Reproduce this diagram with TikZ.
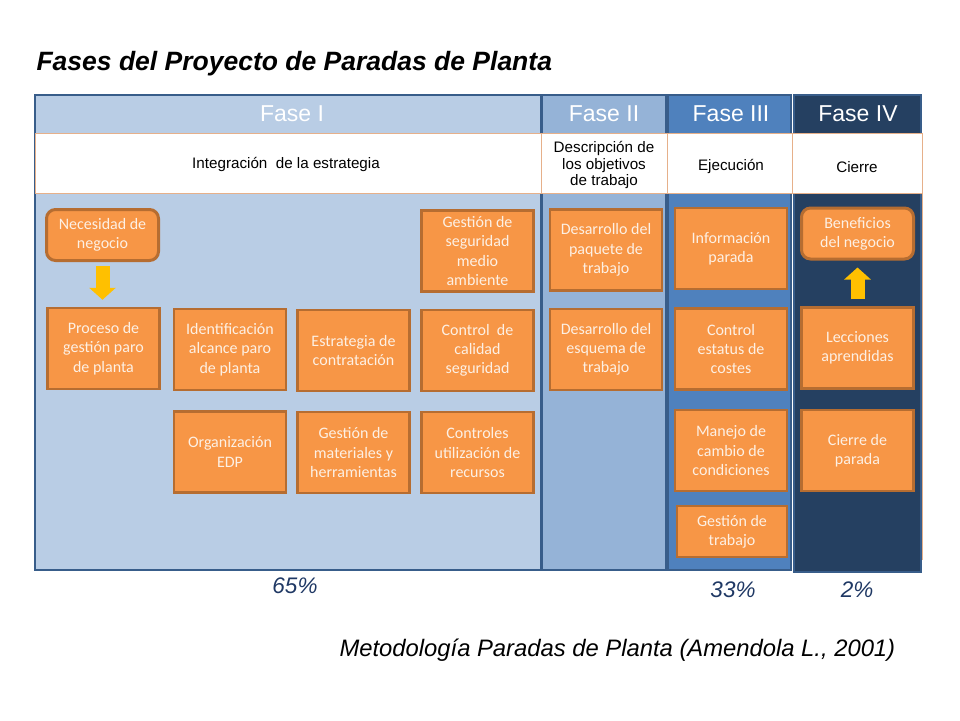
\documentclass[tikz,border=0pt]{standalone}
\usepackage{fontspec}
\setmainfont{Liberation Sans}
\newfontfamily\boxfont{Carlito}
\usepackage{xcolor}
\usetikzlibrary{arrows.meta,positioning,calc}
\definecolor{faseone}{RGB}{185,205,229}
\definecolor{fasetwo}{RGB}{149,179,215}
\definecolor{fasethree}{RGB}{79,129,189}
\definecolor{fasefour}{RGB}{37,64,97}
\definecolor{panelborder}{RGB}{56,93,138}
\definecolor{boxorange}{RGB}{247,150,70}
\definecolor{boxborder}{RGB}{182,109,49}
\definecolor{boxtext}{RGB}{253,240,228}
\definecolor{tanline}{RGB}{230,176,138}
\definecolor{arrowgold}{RGB}{255,192,0}
\definecolor{pctblue}{RGB}{31,56,100}
\tikzset{
  % 阶段面板
  panel/.style={draw=panelborder, line width=2pt},
  % 白色说明格
  cell/.style={draw=tanline, line width=0.8pt, fill=white},
  % 阶段标题
  fasehead/.style={text=white, font=\fontsize{23}{26}\selectfont},
  % 说明文字
  celltext/.style={text=black, align=center, font=\fontsize{15.2}{16.7}\selectfont},
  % 橙色任务框
  task/.style={
    draw=boxborder,
    line width=2.5pt,
    fill=boxorange,
    text=boxtext,
    align=center,
    inner sep=2pt,
    minimum width=112pt,
    minimum height=81pt,
    font=\boxfont\fontsize{16}{19.3}\selectfont
  },
  % 圆角任务框
  goal/.style={task, rounded corners=9pt, line width=3pt, minimum height=51pt},
  % 黄色箭头
  blockarr/.style={-{Triangle[width=26pt,length=12pt]}, line width=14pt, arrowgold},
  % 百分比
  pct/.style={text=pctblue, font=\fontsize{22.5}{26}\selectfont\itshape},
}
\begin{document}
\begin{tikzpicture}[x=1pt, y=-1pt]
  \useasboundingbox (0,0) rectangle (960,720);

  % 标题
  \node[anchor=west, font=\fontsize{26.5}{30}\selectfont\bfseries\itshape] (title) at (33,64) {Fases del Proyecto de Paradas de Planta};

  % 阶段面板
  \draw[panel, fill=faseone] (35,95) rectangle (541,570);
  \draw[panel, fill=fasetwo] (542,95) rectangle (666,570);
  \draw[panel, fill=fasethree] (668,95) rectangle (791,570);
  \draw[panel, fill=fasefour] (794,95) rectangle (921,572);

  % 白色说明格
  \draw[cell] (35,133) rectangle (541,193);
  \draw[cell] (541,133) rectangle (667,193);
  \draw[cell] (667,133) rectangle (792,193);
  \draw[cell] (792,133) rectangle (922,193);
  \draw[tanline, line width=0.8pt] (922,193) -- (922,560);

  % 阶段标题
  \node[fasehead] (f1) at (292,114) {Fase I};
  \node[fasehead] (f2) at (604,114) {Fase II};
  \node[fasehead] (f3) at (731,114) {Fase III};
  \node[fasehead] (f4) at (858,114) {Fase IV};

  \node[celltext] (d1) at (286,164) {Integración~ de la estrategia};
  \node[celltext] (d2) at (604,165) {Descripción de\\los objetivos\\de trabajo};
  \node[celltext] (d3) at (731,166) {Ejecución};
  \node[celltext] (d4) at (857,167) {Cierre};

  % Fase I
  \node[goal] (nec) at (102.5,235) {Necesidad de\\negocio};
  \node[task] (proc) at (103.5,348.5) {Proceso de\\gestión paro\\de planta};
  \node[task] (ident) at (230,349.5) {Identificación\\alcance paro\\de planta};
  \node[task] (estr) at (353.5,350.5) {Estrategia de\\contratación};
  \node[task] (ctrl) at (477.5,350.5) {Control~ de\\calidad\\seguridad};
  \node[task] (gseg) at (477.5,251) {Gestión de\\seguridad\\medio\\ambiente};
  \node[task] (org) at (230,452) {Organización\\EDP};
  \node[task] (gmat) at (353.5,452.5) {Gestión de\\materiales y\\herramientas};
  \node[task] (crec) at (477.5,452.5) {Controles\\utilización de\\recursos};

  % Fase II
  \node[task] (dpaq) at (606,250) {Desarrollo del\\paquete de\\trabajo};
  \node[task] (desq) at (606,349.5) {Desarrollo del\\esquema de\\trabajo};

  % Fase III
  \node[task] (info) at (731,248.5) {Información\\parada};
  \node[task] (cost) at (731,349) {Control\\estatus de\\costes};
  \node[task] (mane) at (731,450.5) {Manejo de\\cambio de\\condiciones};
  \node[task, minimum width=110pt, minimum height=51pt] (gtra) at (732,531.5) {Gestión de\\trabajo};

  % Fase IV
  \node[goal] (bene) at (857.5,233.5) {Beneficios\\del negocio};
  \node[task] (lecc) at (857.5,348) {Lecciones\\aprendidas};
  \node[task] (cier) at (857.5,450.5) {Cierre de\\parada};

  % 箭头
  \draw[blockarr, shorten <=4pt, shorten >=7pt] (nec.south) -- (nec.south |- proc.north);
  \draw[blockarr, shorten <=7pt, shorten >=7pt] (lecc.north) -- (lecc.north |- bene.south);

  % 百分比
  \node[pct] (p1) at (295,586) {65\%};
  \node[pct] (p3) at (733,590) {33\%};
  \node[pct] (p4) at (857,590) {2\%};

  % 来源
  \node[anchor=west, font=\fontsize{23.8}{27}\selectfont\itshape] (src) at (336,650) {Metodología Paradas de Planta (Amendola L., 2001)};
\end{tikzpicture}
\end{document}
